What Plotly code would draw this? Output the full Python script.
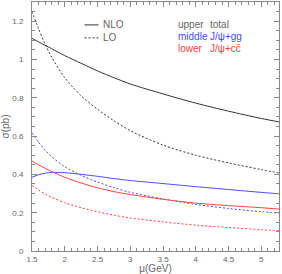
import plotly.graph_objects as go

mu = [1.5, 1.6, 1.7, 1.8, 2.0, 2.25, 2.5, 2.75, 3.0, 3.5, 4.0, 4.5, 5.0, 5.3]

nlo_total = [1.11, 1.092, 1.074, 1.056, 1.02, 0.98, 0.94, 0.905, 0.872, 0.82, 0.772, 0.73, 0.692, 0.672]
lo_total = [1.25, 1.16, 1.08, 1.012, 0.905, 0.81, 0.74, 0.68, 0.628, 0.553, 0.50, 0.46, 0.425, 0.405]
nlo_gg = [0.385, 0.398, 0.406, 0.41, 0.409, 0.40, 0.39, 0.378, 0.368, 0.352, 0.336, 0.321, 0.306, 0.298]
lo_gg = [0.617, 0.568, 0.527, 0.492, 0.44, 0.395, 0.36, 0.331, 0.306, 0.272, 0.243, 0.222, 0.205, 0.197]
nlo_cc = [0.47, 0.45, 0.432, 0.415, 0.385, 0.355, 0.33, 0.31, 0.295, 0.27, 0.25, 0.237, 0.226, 0.218]
lo_cc = [0.342, 0.318, 0.298, 0.28, 0.252, 0.226, 0.205, 0.187, 0.172, 0.152, 0.135, 0.123, 0.111, 0.105]

BLACK = "#333333"
BLUE = "#4a4aff"
RED = "#ff4040"
TXT = "#666666"
FONT = "Liberation Sans"

fig = go.Figure()

def add(y, color, dash):
    fig.add_trace(go.Scatter(x=mu, y=y, mode="lines",
                             line=dict(color=color, width=1, dash=dash, shape="spline", smoothing=0.8),
                             showlegend=False, hoverinfo="skip"))

add(nlo_total, BLACK, "solid")
add(lo_total, BLACK, "2px,2px")
add(nlo_gg, BLUE, "solid")
add(lo_gg, BLUE, "2px,2px")
add(nlo_cc, RED, "solid")
add(lo_cc, RED, "2px,2px")

axis_common = dict(
    showline=True, linecolor="#888888", linewidth=1, mirror="ticks",
    ticks="inside", ticklen=5, tickcolor="#888888", tickwidth=1,
    showgrid=False, zeroline=False,
    tickfont=dict(family=FONT, size=8, color=TXT),
)

fig.update_xaxes(range=[1.5, 5.27], dtick=0.5, tick0=1.5,
                 minor=dict(dtick=0.1, ticks="inside", ticklen=3, tickcolor="#888888"),
                 title=dict(text="μ(GeV)", font=dict(family=FONT, size=10, color=TXT), standoff=2),
                 **axis_common)
fig.update_yaxes(range=[0, 1.3], dtick=0.2, tick0=0,
                 minor=dict(dtick=0.05, ticks="inside", ticklen=3, tickcolor="#888888"),
                 ticklabelstandoff=6,
                 title=dict(text="σ(pb)", font=dict(family=FONT, size=10, color=TXT), standoff=4),
                 **axis_common)

W, H = 282, 274
L, R, T, B = 30, 3, 1, 23
pw, ph = W - L - R, H - T - B

def px(x):
    return (x - L) / pw

def py(y):
    return 1 - (y - T) / ph

fig.add_shape(type="line", xref="paper", yref="paper", x0=px(83), x1=px(97), y0=py(24), y1=py(24),
              line=dict(color=BLACK, width=1))
fig.add_shape(type="line", xref="paper", yref="paper", x0=px(83), x1=px(97), y0=py(37), y1=py(37),
              line=dict(color=BLACK, width=1, dash="2px,2px"))

def txt(x, y, s, color):
    fig.add_annotation(xref="paper", yref="paper", x=px(x), y=py(y), text=s, showarrow=False,
                       xanchor="left", yanchor="middle", font=dict(family=FONT, size=10, color=color))

txt(100, 24, "NLO", TXT)
txt(100, 37, "LO", TXT)
txt(175, 24, "upper", TXT)
txt(207, 24, "total", TXT)
txt(175, 36, "middle", BLUE)
txt(207, 36, "J/ψ+gg", BLUE)
txt(175, 48, "lower", RED)
txt(207, 48, "J/ψ+cc̄", RED)

fig.update_layout(width=W, height=H, margin=dict(l=L, r=R, t=T, b=B),
                  plot_bgcolor="white", paper_bgcolor="white",
                  font=dict(family=FONT, color=TXT))

fig.write_html("out.html", config={"displayModeBar": False, "staticPlot": True},
               post_script="document.body.style.margin='0';document.body.style.padding='0';")
